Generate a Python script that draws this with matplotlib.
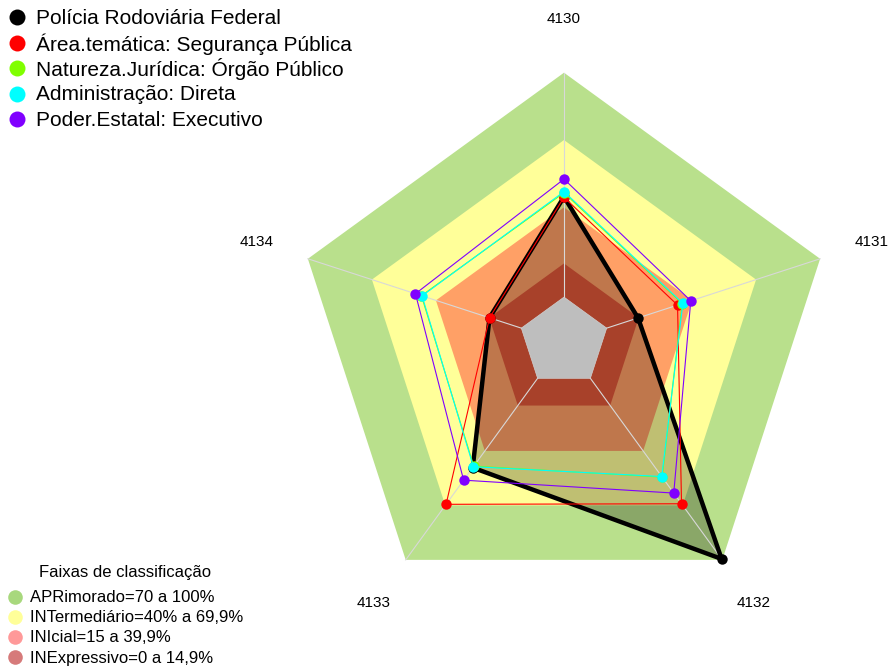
import numpy as np
import matplotlib
matplotlib.use("Agg")
import matplotlib.pyplot as plt
from matplotlib.patches import Polygon

plt.rcParams['font.family'] = ['Liberation Sans', 'DejaVu Sans']

# ---- data ----
axes_labels = ["4130", "4131", "4132", "4133", "4134"]
series_names = ["Polícia Rodoviária Federal",
                "Área.temática: Segurança Pública",
                "Natureza.Jurídica: Órgão Público",
                "Administração: Direta",
                "Poder.Estatal: Executivo"]
policia = [44.7, 14.7, 99.5, 49.2, 14.9]
area_tematica = [44.5, 33.2, 69.1, 69.4, 14.9]
natureza = [46.5, 35.4, 54.4, 48.4, 46.8]
administracao = [47.0, 35.7, 54.1, 48.7, 46.5]
poder = [52.6, 39.4, 63.2, 56.1, 49.6]
series_values = [policia, area_tematica, natureza, administracao, poder]
series_colors = ["#000000", "#FF0000", "#80FF00", "#00FFFF", "#8000FF"]

band_labels = ["APRimorado=70 a 100%", "INTermediário=40% a 69,9%",
               "INIcial=15 a 39,9%", "INExpressivo=0 a 14,9%"]
band_limits = [100, 70, 40, 15]
band_fill = ["#B9E08C", "#FFFF99", "#FFA066", "#A8412A"]
band_legend_colors = ["#A8D87D", "#FFFF99", "#FF9999", "#D67A7A"]
legend_title = "Faixas de classificação"

# ---- geometry ----
n = len(axes_labels)
angles = np.pi / 2 - 2 * np.pi * np.arange(n) / n
gap = 1 / 6


def rad(v):
    return gap + (1 - gap) * np.asarray(v, dtype=float) / 100.0


def xy(vals):
    r = rad(vals)
    return np.column_stack([r * np.cos(angles), r * np.sin(angles)])


W, H = 889, 668
cx, cy, R = 564, 342, 269.3
fig = plt.figure(figsize=(W / 100, H / 100), dpi=100)
ax = fig.add_axes([0, 0, 1, 1])
ax.set_xlim(-cx / R, (W - cx) / R)
ax.set_ylim(-(H - cy) / R, cy / R)
ax.axis('off')

# bands (outer three)
for lim, col in zip(band_limits[:3], band_fill[:3]):
    ax.add_patch(Polygon(xy([lim] * n), closed=True, facecolor=col,
                         edgecolor='none', zorder=1))

# black series fill
ax.add_patch(Polygon(xy(policia), closed=True, facecolor='black', alpha=0.25,
                     edgecolor='none', zorder=2))

# inner band and gray hole
ax.add_patch(Polygon(xy([band_limits[3]] * n), closed=True, facecolor=band_fill[3],
                     edgecolor='none', zorder=3))

# spokes
inner = xy([0] * n)
outer = xy([100] * n)
for i in range(n):
    ax.plot([0, outer[i, 0]], [0, outer[i, 1]],
            color="#D8D8D8", lw=0.8, zorder=3.5)
ax.add_patch(Polygon(inner, closed=True, facecolor="#BEBEBE",
                     edgecolor='#D0D0D0', lw=0.5, zorder=4))

# series lines
for k, (vals, col) in enumerate(zip(series_values, series_colors)):
    p = xy(vals)
    p = np.vstack([p, p[:1]])
    lw = 3.2 if k == 0 else 0.8
    ax.plot(p[:, 0], p[:, 1], color=col, lw=lw, zorder=5 + k,
            solid_joinstyle='miter')
    ax.plot(p[:-1, 0], p[:-1, 1], 'o', color=col, ms=7.5, mec='none',
            zorder=5 + k)

# axis labels
lab_r = 1.2
for i, lab in enumerate(axes_labels):
    ax.text(lab_r * np.cos(angles[i]), lab_r * np.sin(angles[i]), lab,
            ha='center', va='center', fontsize=11)

# legends in pixel coordinates
lg = fig.add_axes([0, 0, 1, 1])
lg.set_xlim(0, W)
lg.set_ylim(H, 0)
lg.axis('off')
lg.patch.set_alpha(0)

y0, dy = 17, 25.5
for k, (name, col) in enumerate(zip(series_names, series_colors)):
    y = y0 + k * dy
    lg.plot([17], [y], 'o', color=col, ms=11.5, mec='none')
    lg.text(36, y + 1.5, name, fontsize=15, va='center', ha='left')

lg.text(125, 573, legend_title, fontsize=12, ha='center', va='center')
for k, (lab, col) in enumerate(zip(band_labels, band_legend_colors)):
    y = 597 + k * 20
    lg.plot([15], [y], 'o', color=col, ms=10.5, mec='none')
    lg.text(30, y + 1, lab, fontsize=12, va='center', ha='left')

fig.savefig("out.png", dpi=100)
